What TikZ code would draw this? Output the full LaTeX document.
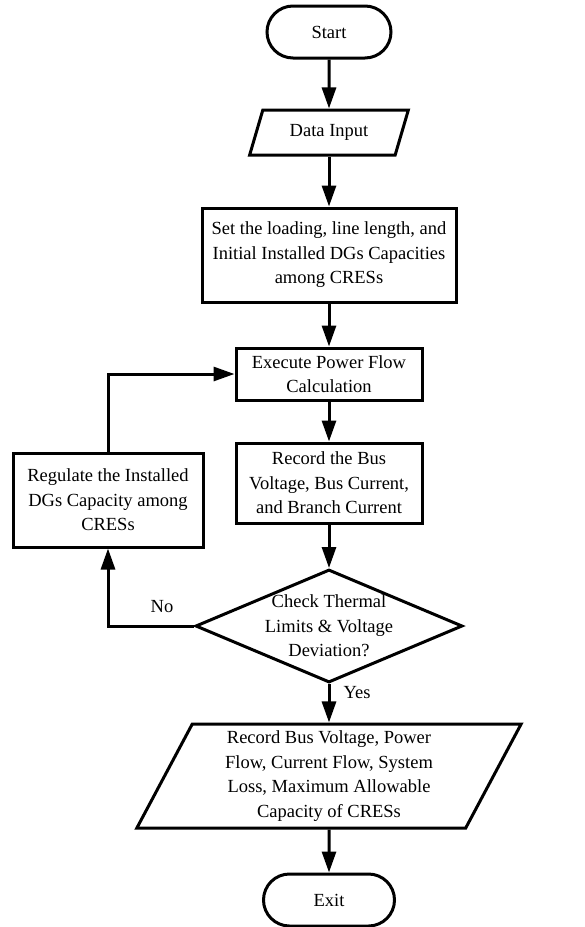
\documentclass[tikz,border=0pt]{standalone}
\usepackage{fontspec}
\setmainfont{Liberation Serif}
\usetikzlibrary{arrows.meta}
\usetikzlibrary{shapes.geometric}

\begin{document}
\begin{tikzpicture}[x=1pt, y=-1pt, line width=3pt,
   font=\fontsize{18.5}{24.5}\selectfont,
   term_style/.style={draw=black, rectangle, rounded corners=26pt, minimum height=52pt, inner sep=0pt},
   box_style/.style={draw=black, rectangle, align=center, inner sep=0pt},
   io_style/.style={draw=black, trapezium, trapezium left angle=64, trapezium right angle=116,
      trapezium stretches=true, align=center, inner sep=0pt},
   dec_style/.style={draw=black, diamond, minimum width=267pt, minimum height=113pt, inner sep=0pt},
   edge_style/.style={draw=black, -{Triangle[length=21pt,width=14pt]}}]
	\useasboundingbox (0,0) rectangle (585,927);
	\node [term_style, minimum width=124pt] (n1) at (329,32)  {Start};
	\node [io_style, minimum width=159pt, minimum height=45pt] (n2) at (329,132.5) {Data Input};
	\node [box_style, minimum width=254pt, minimum height=94pt] (n3) at (329,255)
		{Set the loading, line length, and\\Initial Installed DGs Capacities\\among CRESs};
	\node [box_style, minimum width=186pt, minimum height=52pt] (n4) at (329,374)
		{Execute Power Flow\\Calculation};
	\node [box_style, minimum width=186pt, minimum height=80pt] (n5) at (329,483)
		{Record the Bus\\Voltage, Bus Current,\\and Branch Current};
	\node [dec_style, label={[align=center]center:Check Thermal\\Limits \& Voltage\\Deviation?}] (n6) at (329,626) {};
	\node [io_style, trapezium left angle=65, trapezium right angle=115,
		minimum width=385pt, minimum height=104pt] (n7) at (329,776)
		{Record Bus Voltage, Power\\Flow, Current Flow, System\\Loss, Maximum Allowable\\Capacity of CRESs};
	\node [term_style, minimum width=131pt] (n8) at (329,900)  {Exit};
	\node [box_style, minimum width=190pt, minimum height=94pt] (n9) at (108,500)
		{Regulate the Installed\\DGs Capacity among\\CRESs};
	\node (yes) at (357,693) {Yes};
	\node (no) at (162,607) {No};

	\foreach \from/\to in {n1/n2, n2/n3, n3/n4, n4/n5, n5/n6, n6/n7, n7/n8}
	  \draw [edge_style] (\from) -- (\to);
	\draw [edge_style] (n6.west) -| (n9.south);
	\draw [edge_style] (n9.north) |- (n4.west);

\end{tikzpicture}
\end{document}
